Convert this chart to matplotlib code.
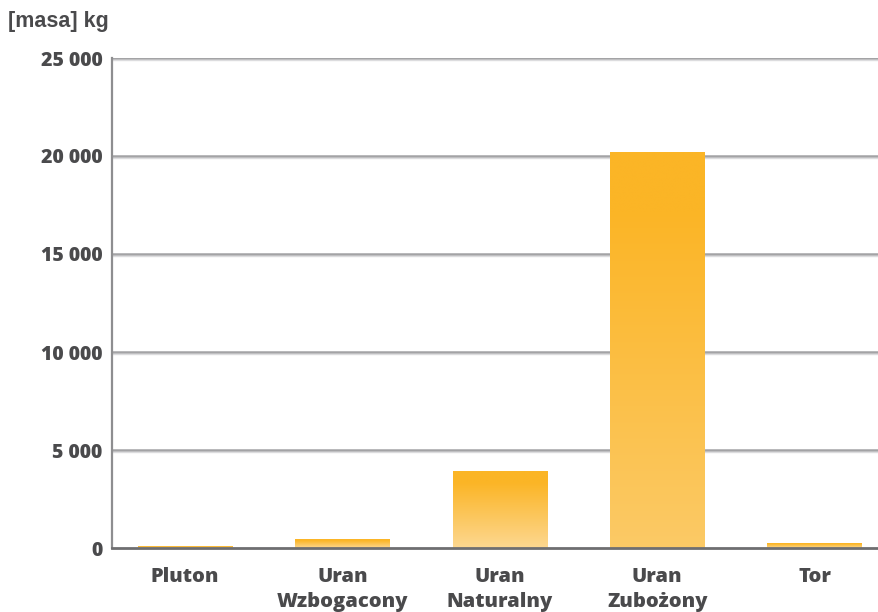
import numpy as np
import matplotlib
matplotlib.use('Agg')
import matplotlib.pyplot as plt
from matplotlib.colors import to_rgb

# data
categories = ['Pluton', 'Uran\nWzbogacony', 'Uran\nNaturalny', 'Uran\nZubożony', 'Tor']
masses = [100, 420, 3880, 20200, 220]
yticks = [0, 5000, 10000, 15000, 20000, 25000]

TOP = to_rgb('#fbb526')
LIGHT = to_rgb('#fde3b4')
TEXT = '#4a4a4c'

plt.rcParams['font.family'] = ['Open Sans', 'DejaVu Sans']

fig = plt.figure(figsize=(8.79, 6.12), dpi=100)
ax = fig.add_axes([112 / 879, 1 - 548 / 612, (879 - 112) / 879, (548 - 58) / 612])

x = np.arange(len(categories))
width = 0.6
bars = ax.bar(x, masses, width=width, color='none', zorder=3)

# vertical gradient inside each bar
for b, m in zip(bars, masses):
  # tall bars fade less at the bottom
  mix = 0.75 if m < 10000 else 0.45
  n = 256
  t = np.linspace(0, 1, n)[:, None]  # 0 bottom -> 1 top
  w = np.clip((0.85 - t) / 0.85, 0, 1) * mix
  rgb = np.array(TOP)[None, :] * (1 - w) + np.array(LIGHT)[None, :] * w
  img = np.repeat(rgb[:, None, :], 2, axis=1)
  x0 = b.get_x()
  ax.imshow(img, extent=(x0, x0 + b.get_width(), 0, m), origin='lower',
            aspect='auto', zorder=3, interpolation='bilinear')

ax.set_xlim(-0.465, 4.41)
ax.set_ylim(0, 25000)

ax.set_yticks(yticks)
ax.set_yticklabels([f'{v:,}'.replace(',', ' ') for v in yticks],
                   fontsize=14, fontweight='heavy', color=TEXT)
ax.set_xticks(x)
ax.set_xticklabels(categories, fontsize=14.5, fontweight='heavy', color=TEXT,
                   linespacing=1.3, va='top')
ax.tick_params(axis='y', length=0, pad=7)
ax.tick_params(axis='x', length=0, pad=14)

for v in yticks[1:]:
  ax.axhline(v, color='#a3a3a5', lw=1.8, zorder=1)
  ax.axhline(v - 120, color='#dcdcde', lw=1.0, zorder=1)

for s in ['top', 'right']:
  ax.spines[s].set_visible(False)
ax.spines['left'].set_color('#8e8e90')
ax.spines['left'].set_linewidth(1.6)
ax.spines['bottom'].set_color('#6e6e70')
ax.spines['bottom'].set_linewidth(2.0)
ax.spines['bottom'].set_zorder(5)

fig.text(8 / 879, 1 - 21 / 612, '[masa] kg', fontsize=15.5, fontweight='bold',
         color='#4a4a4c', family=['Liberation Sans', 'DejaVu Sans'], va='center', ha='left')

fig.savefig('out.png', dpi=100)
